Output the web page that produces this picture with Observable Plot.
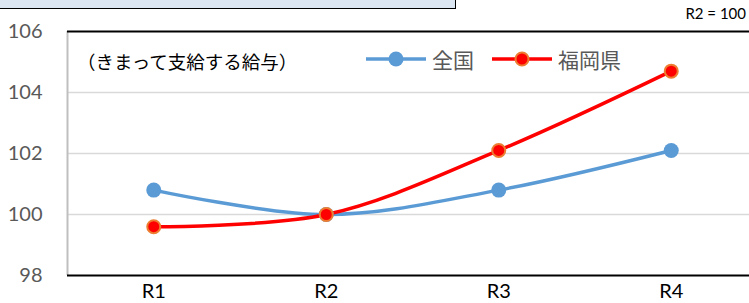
<!DOCTYPE html>
<html>
<head>
<meta charset="utf-8">
<script src="https://cdn.jsdelivr.net/npm/d3@7"></script>
<script src="https://cdn.jsdelivr.net/npm/@observablehq/plot@0.6"></script>
<style>
  html, body { margin: 0; padding: 0; background: #fff; }
  #wrap { position: relative; width: 749px; height: 303px; overflow: hidden; font-family: Lato, "Noto Sans CJK JP", sans-serif; }
  #topbox { position: absolute; left: -2px; top: -12px; width: 458px; height: 21px; background: #dce6f2; border: 1.5px solid #000; box-sizing: border-box; }
  #base { position: absolute; right: 3px; top: 4px; font-size: 15px; color: #000; font-family: Lato, sans-serif; }
  #note { position: absolute; left: 77px; top: 48px; font-size: 18.5px; color: #000; font-family: "Noto Sans CJK JP", sans-serif; }
  #legend { position: absolute; left: 366px; top: 44px; display: flex; align-items: center; font-family: "Noto Sans CJK JP", sans-serif; font-size: 21px; color: #595959; }
  #legend .item { display: flex; align-items: center; margin-right: 18px; }
  #legend svg { margin-right: 6px; }
  #chart { position: absolute; left: 0; top: 0; }
</style>
</head>
<body>
<div id="wrap">
  <div id="chart"></div>
  <div id="topbox"></div>
  <div id="base"></div>
  <div id="note"></div>
  <div id="legend"></div>
</div>
<script>
const years = ["R1", "R2", "R3", "R4"];
const national = [100.8, 100.0, 100.8, 102.1];
const fukuoka = [99.6, 100.0, 102.1, 104.7];
const yTicks = [98, 100, 102, 104, 106];
const seriesNames = ["全国", "福岡県"];
const noteText = "（きまって支給する給与）";
const baseText = "R2 = 100";

const blue = "#5b9bd5";
const red = "#ff0000";
const orange = "#ed7d31";

const natData = years.map((y, i) => ({i, year: y, value: national[i]}));
const fukData = years.map((y, i) => ({i, year: y, value: fukuoka[i]}));

const chart = Plot.plot({
  width: 749,
  height: 303,
  marginLeft: 67,
  marginTop: 31,
  marginBottom: 28,
  marginRight: 0,
  style: {fontFamily: "Lato, sans-serif", background: "transparent", overflow: "hidden"},
  x: {domain: [-0.5, 3.5], range: [67, 757]},
  y: {domain: [98, 106]},
  marks: [
    Plot.ruleY([100, 102, 104], {x1: -0.5, x2: 3.5, stroke: "#d9d9d9", strokeWidth: 1.5}),
    Plot.ruleX([-0.5], {y1: 98, y2: 106, stroke: "#bfbfbf", strokeWidth: 2}),
    Plot.ruleY([106], {x1: -0.5, x2: 3.5, stroke: "#000", strokeWidth: 2}),
    Plot.ruleY([98], {x1: -0.5, x2: 3.5, stroke: "#000", strokeWidth: 2}),
    Plot.axisY({ticks: yTicks, tickSize: 0, tickPadding: 25, fontSize: 20, fill: "#595959", label: null}),
    Plot.axisX({ticks: [0, 1, 2, 3], tickFormat: i => years[i], tickSize: 0, tickPadding: 8, fontSize: 20, fill: "#000", label: null}),
    Plot.line(natData, {x: "i", y: "value", stroke: blue, strokeWidth: 3.5, curve: "catmull-rom"}),
    Plot.line(fukData, {x: "i", y: "value", stroke: red, strokeWidth: 3.5, curve: "catmull-rom"}),
    Plot.dot(natData, {x: "i", y: "value", r: 7.5, fill: blue, stroke: blue, strokeWidth: 0}),
    Plot.dot(fukData, {x: "i", y: "value", r: 6.5, fill: red, stroke: orange, strokeWidth: 2})
  ]
});
document.getElementById("chart").appendChild(chart);

document.getElementById("base").textContent = baseText;
document.getElementById("note").textContent = noteText;

const legend = document.getElementById("legend");
const swatches = [
  {name: seriesNames[0], stroke: blue, fill: blue, ms: blue, r: 7.5, sw: 0},
  {name: seriesNames[1], stroke: red, fill: red, ms: orange, r: 6.5, sw: 2}
];
for (const s of swatches) {
  const item = document.createElement("div");
  item.className = "item";
  item.innerHTML = `<svg width="60" height="20"><line x1="0" y1="10" x2="60" y2="10" stroke="${s.stroke}" stroke-width="3.5"/><circle cx="30" cy="10" r="${s.r}" fill="${s.fill}" stroke="${s.ms}" stroke-width="${s.sw}"/></svg><span>${s.name}</span>`;
  legend.appendChild(item);
}
</script>
</body>
</html>
